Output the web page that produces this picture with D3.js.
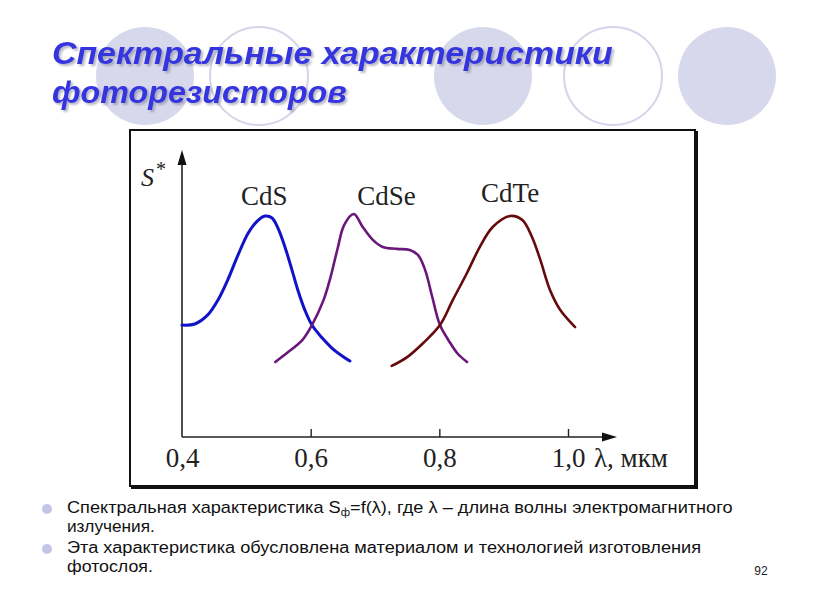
<!DOCTYPE html>
<html><head><meta charset="utf-8">
<script src="https://cdn.jsdelivr.net/npm/d3@7"></script>
<style>
html,body{margin:0;padding:0;background:#fff;}
svg{display:block;}
</style></head>
<body>
<svg id="c" width="816" height="613"></svg>
<script>
// ---- data ----
const seriesNames = ["CdS", "CdSe", "CdTe"];
const xTickValues = [0.4, 0.6, 0.8, 1.0];
const cdsLambda = [0.400,0.420,0.440,0.456,0.471,0.487,0.503,0.517,0.529,0.540,0.549,0.560,0.571,0.580,0.591,0.602,0.618,0.633,0.649,0.661];
const cdsS      = [0.507,0.512,0.553,0.621,0.711,0.824,0.924,0.978,1.001,0.992,0.947,0.861,0.756,0.666,0.575,0.507,0.448,0.403,0.367,0.344];
const cdseLambda = [0.545,0.565,0.587,0.602,0.620,0.630,0.642,0.652,0.667,0.681,0.697,0.712,0.734,0.754,0.767,0.778,0.789,0.801,0.817,0.829,0.843];
const cdseS      = [0.340,0.385,0.439,0.507,0.620,0.714,0.855,0.960,1.010,0.951,0.892,0.861,0.852,0.847,0.824,0.756,0.634,0.507,0.426,0.376,0.340];
const cdteLambda = [0.726,0.750,0.775,0.801,0.821,0.843,0.863,0.883,0.910,0.929,0.944,0.957,0.972,0.988,1.011];
const cdteS      = [0.322,0.362,0.426,0.507,0.621,0.743,0.861,0.951,1.001,0.983,0.906,0.802,0.666,0.575,0.498];

const titleLines = ["Спектральные характеристики", "фоторезисторов"];

// ---- drawing ----
const svg = d3.select("#c");
const defs = svg.append("defs");
const flt = defs.append("filter").attr("id", "tshadow").attr("x", "-5%").attr("y", "-20%").attr("width", "110%").attr("height", "150%");
flt.append("feDropShadow").attr("dx", 2).attr("dy", 2).attr("stdDeviation", 0.8)
  .attr("flood-color", "#7a7a90").attr("flood-opacity", 0.55);

function fitWidth(sel, x0, target) {
  const w = sel.node().getComputedTextLength();
  const k = target / w;
  sel.attr("transform", `translate(${x0},0) scale(${k},1) translate(${-x0},0)`);
}

// decorative circles
const deco = svg.append("g");
const circ = [
  {cx:145, cy:76, fill:true},
  {cx:259, cy:76, fill:false},
  {cx:483, cy:76, fill:true},
  {cx:613, cy:76, fill:false},
  {cx:727, cy:76, fill:true}
];
circ.forEach(c => {
  deco.append("circle").attr("cx", c.cx).attr("cy", c.cy).attr("r", 49)
    .attr("fill", c.fill ? "#d8d8ec" : "none")
    .attr("stroke", c.fill ? "none" : "#d4d4ea")
    .attr("stroke-width", 2);
});

// title
const titleBase = [64, 103];
const titleW = [561, 295];
titleLines.forEach((t, i) => {
  const tt = svg.append("text").attr("x", 52).attr("y", titleBase[i])
    .attr("font-family", "'Liberation Sans', Arial, sans-serif")
    .attr("font-weight", "bold").attr("font-style", "italic")
    .attr("font-size", 31).attr("fill", "#3434e0")
    .attr("filter", "url(#tshadow)").text(t);
  fitWidth(tt, 52, titleW[i]);
});

// chart frame
svg.append("rect").attr("x", 130).attr("y", 130).attr("width", 565).attr("height", 356)
  .attr("fill", "#fff").attr("stroke", "#111").attr("stroke-width", 2);
svg.append("line").attr("x1", 696).attr("y1", 131).attr("x2", 696).attr("y2", 488)
  .attr("stroke", "#111").attr("stroke-width", 4);
svg.append("line").attr("x1", 131).attr("y1", 487.5).attr("x2", 698).attr("y2", 487.5)
  .attr("stroke", "#111").attr("stroke-width", 3);

// scales
const x = d3.scaleLinear().domain([0.4, 1.0]).range([182, 568]);
const y = d3.scaleLinear().domain([0, 1.3]).range([437, 150]);
const xEnd = x.invert(617);

const plot = svg.append("g");

// x axis
const xAxis = d3.axisBottom(x).tickValues(xTickValues).tickSizeInner(-8).tickSizeOuter(0).tickPadding(11)
  .tickFormat(d => d.toFixed(1).replace(".", ","));
const gx = plot.append("g").attr("transform", `translate(0,${y(0)})`).call(xAxis);
gx.select(".domain").remove();
gx.selectAll(".tick line").attr("stroke", "#222").attr("stroke-width", 1.4)
  .filter(d => d === 0.4).remove();
gx.selectAll(".tick text").attr("font-family", "'Liberation Serif', 'Times New Roman', serif")
  .attr("font-size", 27).attr("fill", "#222");
plot.append("line").attr("x1", x(0.4)).attr("y1", y(0)).attr("x2", x(xEnd) - 6).attr("y2", y(0))
  .attr("stroke", "#222").attr("stroke-width", 1.6);
plot.append("path")
  .attr("d", `M${x(xEnd)},${y(0)} L${x(xEnd) - 15},${y(0) - 4.5} L${x(xEnd) - 15},${y(0) + 4.5} Z`)
  .attr("fill", "#111");
plot.append("text").attr("x", 594).attr("y", y(0) + 30)
  .attr("font-family", "'Liberation Serif', 'Times New Roman', serif")
  .attr("font-size", 27).attr("fill", "#222").text("λ, мкм");

// y axis
plot.append("line").attr("x1", x(0.4)).attr("y1", y(0)).attr("x2", x(0.4)).attr("y2", y(1.3) + 8)
  .attr("stroke", "#222").attr("stroke-width", 1.6);
plot.append("path")
  .attr("d", `M${x(0.4)},${y(1.3)} L${x(0.4) - 4.5},${y(1.3) + 15} L${x(0.4) + 4.5},${y(1.3) + 15} Z`)
  .attr("fill", "#111");
const sLab = plot.append("text").attr("x", 141).attr("y", 186)
  .attr("font-family", "'Liberation Serif', 'Times New Roman', serif")
  .attr("font-size", 26).attr("fill", "#222");
sLab.append("tspan").attr("font-style", "italic").text("S");
sLab.append("tspan").attr("dx", 2).attr("dy", -10).attr("font-size", 20).text("*");

// curves
const line = d3.line().x(d => x(d[0])).y(d => y(d[1])).curve(d3.curveCatmullRom.alpha(0.5));
const series = [
  {name: seriesNames[0], xs: cdsLambda, ys: cdsS, color: "#1212c8", w: 3},
  {name: seriesNames[1], xs: cdseLambda, ys: cdseS, color: "#6a167a", w: 2.6},
  {name: seriesNames[2], xs: cdteLambda, ys: cdteS, color: "#66090d", w: 2.6}
];
series.forEach(s => {
  plot.append("path").datum(d3.zip(s.xs, s.ys)).attr("d", line)
    .attr("fill", "none").attr("stroke", s.color).attr("stroke-width", s.w)
    .attr("stroke-linecap", "round");
});

// curve labels
const labelPos = [[0.528, 1.05], [0.718, 1.05], [0.910, 1.063]];
series.forEach((s, i) => {
  plot.append("text").attr("x", x(labelPos[i][0])).attr("y", y(labelPos[i][1]))
    .attr("text-anchor", "middle")
    .attr("font-family", "'Liberation Serif', 'Times New Roman', serif")
    .attr("font-size", 27).attr("fill", "#222").text(s.name);
});

// bullets
const bf = "'Liberation Sans', Arial, sans-serif";
[509, 549].forEach(cy => {
  svg.append("circle").attr("cx", 47).attr("cy", cy).attr("r", 5).attr("fill", "#c4c4e8");
});
const l1 = svg.append("text").attr("x", 67).attr("y", 513).attr("font-family", bf).attr("font-size", 16).attr("fill", "#111");
l1.append("tspan").text("Спектральная характеристика S");
l1.append("tspan").attr("dy", 3).attr("font-size", 10).text("ф");
l1.append("tspan").attr("dy", -3).text("=f(λ), где λ – длина волны электромагнитного");
fitWidth(l1, 67, 666);
const l2 = svg.append("text").attr("x", 67).attr("y", 532).attr("font-family", bf).attr("font-size", 16).attr("fill", "#111").text("излучения.");
fitWidth(l2, 67, 88);
const l3 = svg.append("text").attr("x", 67).attr("y", 553).attr("font-family", bf).attr("font-size", 16).attr("fill", "#111").text("Эта характеристика обусловлена материалом и технологией изготовления");
fitWidth(l3, 67, 635);
const l4 = svg.append("text").attr("x", 67).attr("y", 572).attr("font-family", bf).attr("font-size", 16).attr("fill", "#111").text("фотослоя.");
fitWidth(l4, 67, 86);

svg.append("text").attr("x", 761).attr("y", 575).attr("text-anchor", "middle")
  .attr("font-family", bf).attr("font-size", 12).attr("fill", "#222").text("92");
</script>
</body></html>
